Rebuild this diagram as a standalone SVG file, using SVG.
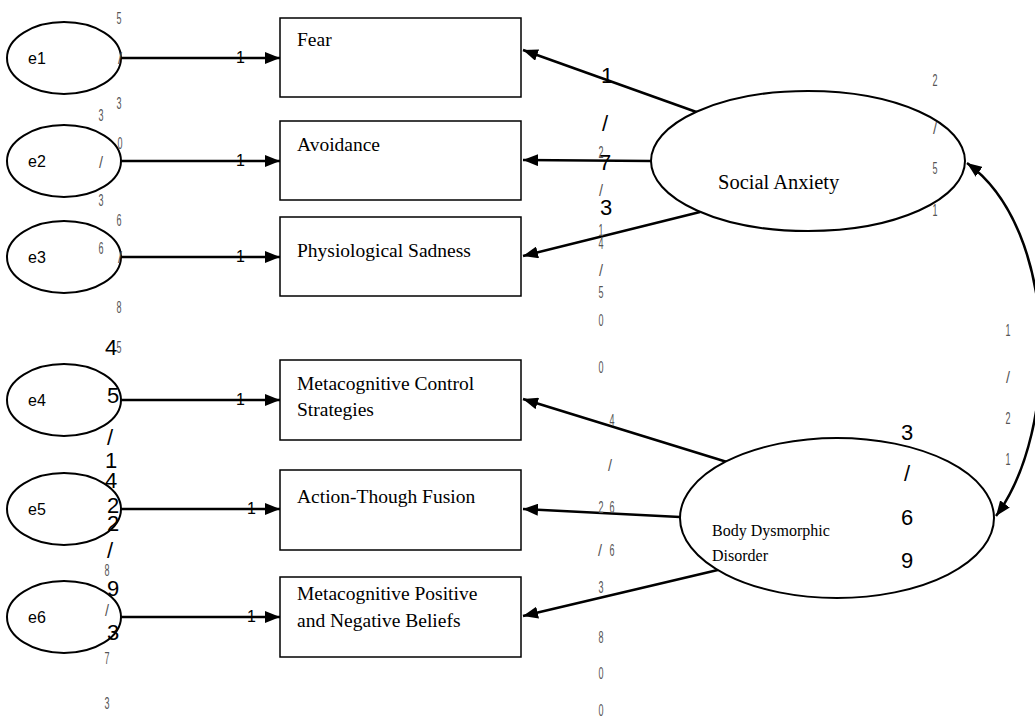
<svg xmlns="http://www.w3.org/2000/svg" width="1035" height="720" viewBox="0 0 1035 720">
  <style>
    .bg { fill: #ffffff; }
    .err { fill: #ffffff; stroke: #000000; stroke-width: 2; }
    .obs { fill: #ffffff; stroke: #000000; stroke-width: 1.5; }
    .lat { fill: #ffffff; stroke: #000000; stroke-width: 2; }
    .path { fill: none; stroke: #000000; stroke-width: 2.5; }
    .elab { font-family: "Liberation Sans", Arial, sans-serif; font-size: 16px; fill: #000000; }
    .one { font-family: "Liberation Sans", Arial, sans-serif; font-size: 16px; fill: #000000; }
    .box { font-family: "Liberation Serif", "Times New Roman", serif; font-size: 19.5px; fill: #000000; }
    .latxt { font-family: "Liberation Serif", "Times New Roman", serif; font-size: 20.5px; fill: #000000; }
    .latsm { font-family: "Liberation Serif", "Times New Roman", serif; font-size: 16px; fill: #000000; }
    .big { font-family: "Liberation Sans", Arial, sans-serif; font-size: 22px; fill: #000000; text-anchor: middle; dominant-baseline: central; }
    .sm { font-family: "Liberation Sans", Arial, sans-serif; font-size: 16px; fill: #555555; text-anchor: middle; dominant-baseline: central; }
  </style>
  <defs>
    <marker id="arrow" markerUnits="userSpaceOnUse" markerWidth="16" markerHeight="12" refX="15" refY="6" orient="auto-start-reverse">
      <path d="M0,0 L15,6 L0,12 z" fill="#000000"/>
    </marker>
  </defs>

  <rect class="bg" x="0" y="0" width="1035" height="720"/>

  <!-- connectors -->
  <g id="connectors">
    <!-- error terms to indicators -->
    <line class="path" x1="121" y1="58" x2="280" y2="58" marker-end="url(#arrow)"/>
    <line class="path" x1="121" y1="161" x2="280" y2="161" marker-end="url(#arrow)"/>
    <line class="path" x1="121" y1="257" x2="280" y2="257" marker-end="url(#arrow)"/>
    <line class="path" x1="121" y1="400" x2="280" y2="400" marker-end="url(#arrow)"/>
    <line class="path" x1="121" y1="509" x2="280" y2="509" marker-end="url(#arrow)"/>
    <line class="path" x1="121" y1="617" x2="280" y2="617" marker-end="url(#arrow)"/>
    <!-- Social Anxiety loadings -->
    <line class="path" x1="702" y1="114" x2="523" y2="50" marker-end="url(#arrow)"/>
    <line class="path" x1="651" y1="161" x2="523" y2="160" marker-end="url(#arrow)"/>
    <line class="path" x1="700" y1="212" x2="523" y2="256" marker-end="url(#arrow)"/>
    <!-- Body Dysmorphic Disorder loadings -->
    <line class="path" x1="727" y1="462" x2="523" y2="399" marker-end="url(#arrow)"/>
    <line class="path" x1="680" y1="517" x2="523" y2="509" marker-end="url(#arrow)"/>
    <line class="path" x1="722" y1="569" x2="523" y2="616" marker-end="url(#arrow)"/>
    <!-- covariance -->
    <path class="path" d="M967,163 C1060,230 1060,430 996,516" marker-start="url(#arrow)" marker-end="url(#arrow)"/>
    <!-- path weights -->
    <text class="one" x="236" y="63">1</text>
    <text class="one" x="236" y="166">1</text>
    <text class="one" x="236" y="262">1</text>
    <text class="one" x="236" y="405">1</text>
    <text class="one" x="247" y="514">1</text>
    <text class="one" x="247" y="622">1</text>
  </g>

  <!-- error terms -->
  <g id="e1"><ellipse class="err" cx="64" cy="58" rx="57" ry="36"/><text class="elab" x="28" y="64">e1</text></g>
  <g id="e2"><ellipse class="err" cx="64" cy="161" rx="57" ry="36"/><text class="elab" x="28" y="167">e2</text></g>
  <g id="e3"><ellipse class="err" cx="64" cy="257" rx="57" ry="36"/><text class="elab" x="28" y="263">e3</text></g>
  <g id="e4"><ellipse class="err" cx="64" cy="400" rx="57" ry="36"/><text class="elab" x="28" y="406">e4</text></g>
  <g id="e5"><ellipse class="err" cx="64" cy="509" rx="57" ry="36"/><text class="elab" x="28" y="515">e5</text></g>
  <g id="e6"><ellipse class="err" cx="64" cy="617" rx="57" ry="36"/><text class="elab" x="28" y="623">e6</text></g>

  <!-- observed indicators -->
  <g id="fear"><rect class="obs" x="280" y="18" width="241" height="79"/><text class="box" x="297" y="46">Fear</text></g>
  <g id="avoidance"><rect class="obs" x="280" y="121" width="241" height="79"/><text class="box" x="297" y="151">Avoidance</text></g>
  <g id="physiological-sadness"><rect class="obs" x="280" y="217" width="241" height="79"/><text class="box" x="297" y="257">Physiological Sadness</text></g>
  <g id="metacognitive-control"><rect class="obs" x="280" y="360" width="241" height="80"/><text class="box" x="297" y="390">Metacognitive Control</text><text class="box" x="297" y="416">Strategies</text></g>
  <g id="action-fusion"><rect class="obs" x="280" y="470" width="241" height="80"/><text class="box" x="297" y="503">Action-Though Fusion</text></g>
  <g id="metacognitive-beliefs"><rect class="obs" x="280" y="577" width="241" height="80"/><text class="box" x="297" y="600">Metacognitive Positive</text><text class="box" x="297" y="627">and Negative Beliefs</text></g>

  <!-- latent factors -->
  <g id="social-anxiety"><ellipse class="lat" cx="808" cy="161" rx="157" ry="70"/><text class="latxt" x="718" y="189">Social Anxiety</text></g>
  <g id="body-dysmorphic-disorder"><ellipse class="lat" cx="837" cy="518" rx="157" ry="80"/><text class="latsm" x="712" y="536">Body Dysmorphic</text><text class="latsm" x="712" y="561">Disorder</text></g>

  <!-- stray stacked characters -->
  <g id="stacked-digits">
    <text class="sm" x="119" y="18" textLength="5" lengthAdjust="spacingAndGlyphs">5</text>
    <text class="sm" x="120" y="58" textLength="4" lengthAdjust="spacingAndGlyphs" fill="#999999">/</text>
    <text class="sm" x="119" y="103" textLength="5" lengthAdjust="spacingAndGlyphs">3</text>
    <text class="sm" x="101" y="115" textLength="5" lengthAdjust="spacingAndGlyphs">3</text>
    <text class="sm" x="120" y="143" textLength="5" lengthAdjust="spacingAndGlyphs">0</text>
    <text class="sm" x="101" y="162" textLength="4" lengthAdjust="spacingAndGlyphs">/</text>
    <text class="sm" x="101" y="200" textLength="5" lengthAdjust="spacingAndGlyphs">3</text>
    <text class="sm" x="119" y="220" textLength="5" lengthAdjust="spacingAndGlyphs">6</text>
    <text class="sm" x="101" y="248" textLength="5" lengthAdjust="spacingAndGlyphs">6</text>
    <text class="sm" x="120" y="257" textLength="4" lengthAdjust="spacingAndGlyphs" fill="#999999">/</text>
    <text class="sm" x="119" y="307" textLength="5" lengthAdjust="spacingAndGlyphs">8</text>
    <text class="sm" x="119" y="347" textLength="5" lengthAdjust="spacingAndGlyphs">5</text>
    <text class="sm" x="107" y="570" textLength="5" lengthAdjust="spacingAndGlyphs">8</text>
    <text class="sm" x="107" y="610" textLength="4" lengthAdjust="spacingAndGlyphs">/</text>
    <text class="sm" x="107" y="658" textLength="5" lengthAdjust="spacingAndGlyphs">7</text>
    <text class="sm" x="107" y="703" textLength="5" lengthAdjust="spacingAndGlyphs">3</text>

    <text class="big" x="111" y="347">4</text>
    <text class="big" x="113" y="395">5</text>
    <text class="big" x="110" y="437">/</text>
    <text class="big" x="111" y="460">1</text>
    <text class="big" x="111" y="480">4</text>
    <text class="big" x="113" y="505">2</text>
    <text class="big" x="113" y="523">2</text>
    <text class="big" x="110" y="550">/</text>
    <text class="big" x="113" y="588">9</text>
    <text class="big" x="113" y="632">3</text>

    <text class="big" x="607" y="75">1</text>
    <text class="big" x="605" y="123">/</text>
    <text class="big" x="605" y="162">7</text>
    <text class="big" x="606" y="207">3</text>
    <text class="sm" x="601" y="152" textLength="5" lengthAdjust="spacingAndGlyphs">2</text>
    <text class="sm" x="601" y="190" textLength="4" lengthAdjust="spacingAndGlyphs">/</text>
    <text class="sm" x="601" y="230" textLength="5" lengthAdjust="spacingAndGlyphs">1</text>
    <text class="sm" x="601" y="243" textLength="5" lengthAdjust="spacingAndGlyphs">4</text>
    <text class="sm" x="601" y="270" textLength="4" lengthAdjust="spacingAndGlyphs">/</text>
    <text class="sm" x="601" y="292" textLength="5" lengthAdjust="spacingAndGlyphs">5</text>
    <text class="sm" x="601" y="320" textLength="5" lengthAdjust="spacingAndGlyphs">0</text>
    <text class="sm" x="601" y="367" textLength="5" lengthAdjust="spacingAndGlyphs">0</text>
    <text class="sm" x="612" y="420" textLength="5" lengthAdjust="spacingAndGlyphs">4</text>
    <text class="sm" x="610" y="465" textLength="4" lengthAdjust="spacingAndGlyphs">/</text>
    <text class="sm" x="601" y="507" textLength="5" lengthAdjust="spacingAndGlyphs">2</text>
    <text class="sm" x="612" y="507" textLength="5" lengthAdjust="spacingAndGlyphs">6</text>
    <text class="sm" x="600" y="550" textLength="4" lengthAdjust="spacingAndGlyphs">/</text>
    <text class="sm" x="612" y="550" textLength="5" lengthAdjust="spacingAndGlyphs">6</text>
    <text class="sm" x="601" y="587" textLength="5" lengthAdjust="spacingAndGlyphs">3</text>
    <text class="sm" x="601" y="637" textLength="5" lengthAdjust="spacingAndGlyphs">8</text>
    <text class="sm" x="601" y="673" textLength="5" lengthAdjust="spacingAndGlyphs">0</text>
    <text class="sm" x="601" y="710" textLength="5" lengthAdjust="spacingAndGlyphs">0</text>

    <text class="sm" x="935" y="80" textLength="5" lengthAdjust="spacingAndGlyphs">2</text>
    <text class="sm" x="935" y="128" textLength="4" lengthAdjust="spacingAndGlyphs">/</text>
    <text class="sm" x="935" y="168" textLength="5" lengthAdjust="spacingAndGlyphs">5</text>
    <text class="sm" x="935" y="210" textLength="5" lengthAdjust="spacingAndGlyphs">1</text>

    <text class="sm" x="1008" y="330" textLength="5" lengthAdjust="spacingAndGlyphs">1</text>
    <text class="sm" x="1008" y="377" textLength="4" lengthAdjust="spacingAndGlyphs">/</text>
    <text class="sm" x="1008" y="418" textLength="5" lengthAdjust="spacingAndGlyphs">2</text>
    <text class="sm" x="1008" y="459" textLength="5" lengthAdjust="spacingAndGlyphs">1</text>

    <text class="big" x="907" y="432">3</text>
    <text class="big" x="907" y="473">/</text>
    <text class="big" x="907" y="517">6</text>
    <text class="big" x="907" y="560">9</text>
  </g>
</svg>
